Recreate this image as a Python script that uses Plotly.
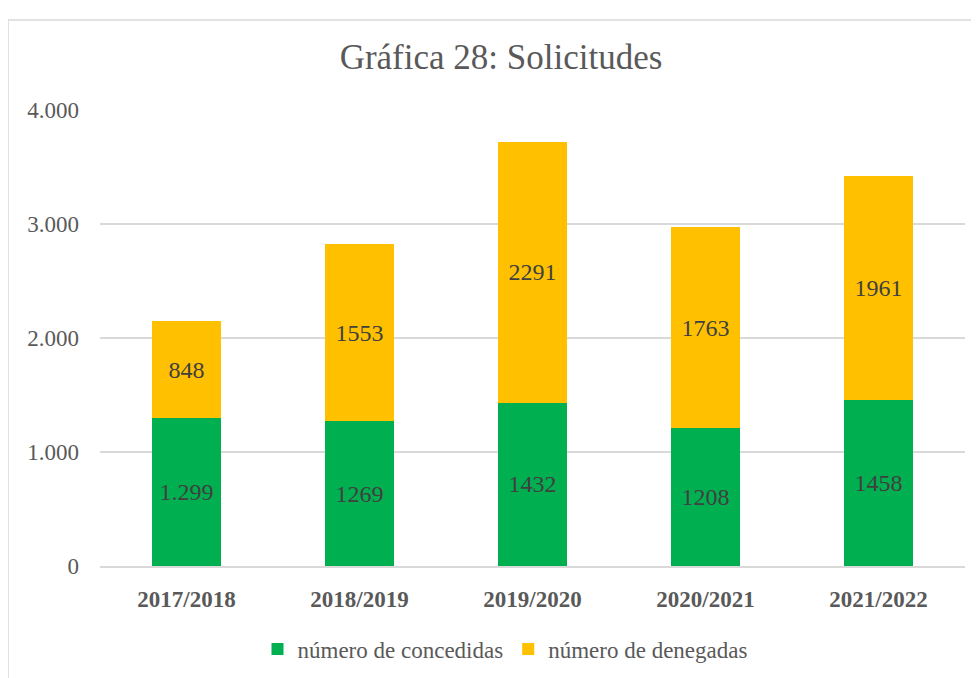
import plotly.graph_objects as go

categories = ["2017/2018", "2018/2019", "2019/2020", "2020/2021", "2021/2022"]
concedidas = [1299, 1269, 1432, 1208, 1458]
denegadas = [848, 1553, 2291, 1763, 1961]
concedidas_text = ["1.299", "1269", "1432", "1208", "1458"]
denegadas_text = ["848", "1553", "2291", "1763", "1961"]
y_ticks = [0, 1000, 2000, 3000, 4000]
y_tick_labels = ["0", "1.000", "2.000", "3.000", "4.000"]

FONT = "Liberation Serif"
GRAY = "#595959"

# page offset of 8px (body margin) compensated in margins
OFF = 8
W, H = 979, 678
plot_l, plot_r, plot_t, plot_b = 100 - OFF, 965 - OFF, 110 - OFF, 566 - OFF
pw, ph = plot_r - plot_l, plot_b - plot_t

fig = go.Figure()
fig.add_trace(go.Bar(
    x=categories, y=concedidas, name="número de concedidas",
    marker=dict(color="#00B050", line=dict(width=0)),
    text=concedidas_text, textposition="inside", insidetextanchor="middle",
    textfont=dict(family=FONT, size=24, color="#404040"),
    textangle=0,
))
fig.add_trace(go.Bar(
    x=categories, y=denegadas, name="número de denegadas",
    marker=dict(color="#FFC000", line=dict(width=0)),
    text=denegadas_text, textposition="inside", insidetextanchor="middle",
    textfont=dict(family=FONT, size=24, color="#404040"),
    textangle=0,
))

fig.update_layout(
    barmode="stack",
    bargap=0.6,
    width=W, height=H,
    paper_bgcolor="white", plot_bgcolor="white",
    margin=dict(l=plot_l, r=W - plot_r, t=plot_t, b=H - plot_b, autoexpand=False),
    title=dict(text="Gráfica 28: Solicitudes", x=(501 - OFF) / W, xanchor="center",
               y=1 - (57 - OFF) / H, yanchor="middle",
               font=dict(family=FONT, size=35, color=GRAY)),
    font=dict(family=FONT, color=GRAY),
    showlegend=True,
    legend=dict(orientation="h", x=(505 - 100) / pw, xanchor="center",
                y=(plot_b - (649 - OFF)) / ph, yanchor="middle",
                font=dict(family=FONT, size=23, color=GRAY), traceorder="normal",
                itemwidth=30),
)
fig.update_xaxes(
    showgrid=False, showline=True, linecolor="#D9D9D9", linewidth=1.5,
    ticks="", tickfont=dict(family=FONT, size=23, color=GRAY, weight="bold"),
    ticklabelstandoff=12, tickangle=0,
)
fig.update_yaxes(
    range=[0, 4000], tickvals=y_ticks, ticktext=y_tick_labels,
    showgrid=True, gridcolor="#D9D9D9", gridwidth=1.5, zeroline=False,
    showline=False, ticks="", ticklabelstandoff=20,
    tickfont=dict(family=FONT, size=23, color=GRAY),
)
# outer chart border (left and top edges visible)
bx = (0 - plot_l) / pw
by_top = (plot_b - 12) / ph
fig.add_shape(type="line", xref="paper", yref="paper",
              x0=bx, x1=bx, y0=(plot_b - 700) / ph, y1=by_top,
              line=dict(color="#D9D9D9", width=1.5))
fig.add_shape(type="line", xref="paper", yref="paper",
              x0=bx, x1=(1000 - plot_l) / pw, y0=by_top, y1=by_top,
              line=dict(color="#D9D9D9", width=1.5))

fig.write_html("out.html")
